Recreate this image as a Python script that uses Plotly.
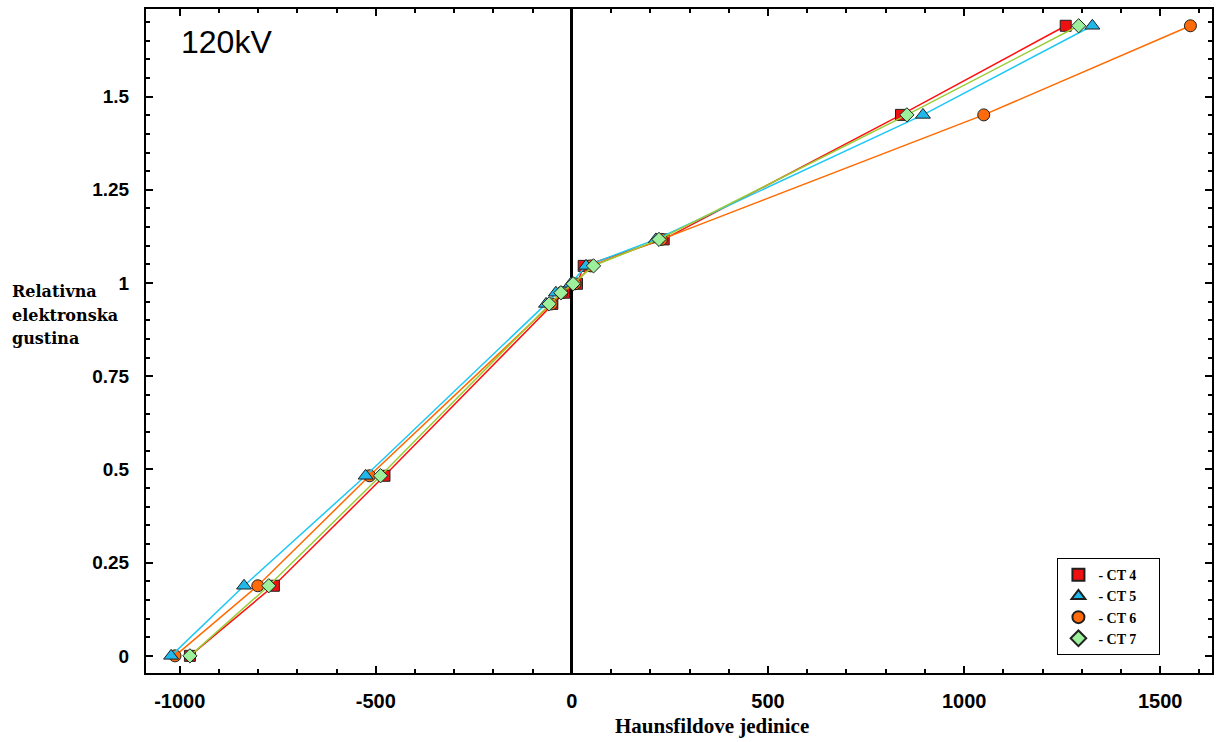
import plotly.graph_objects as go

# Relative electron density vs. Hounsfield units, 120 kV, four CT scanners
density = [0.0, 0.188, 0.483, 0.944, 0.974, 0.998, 1.046, 1.117, 1.451, 1.69]

hu_ct4 = [-974, -760, -478, -50, -20, 13, 30, 234, 839, 1259]
hu_ct5 = [-1022, -836, -526, -66, -41, -3, 36, 214, 895, 1327]
hu_ct6 = [-1012, -801, -516, -52, -26, 8, 48, 228, 1050, 1577]
hu_ct7 = [-974, -773, -488, -58, -28, 3, 55, 222, 854, 1292]

series = [
    # name, x, line colour, marker symbol, marker fill, marker size
    ("CT 4", hu_ct4, "#ff1010", "square", "#ee1111", 11),
    ("CT 6", hu_ct6, "#ff6a00", "circle", "#ff6a0a", 12),
    ("CT 5", hu_ct5, "#1ec8f5", "triangle-up", "#20b8ea", 13),
    ("CT 7", hu_ct7, "#99cc33", "diamond", "#9cf09c", 11),
]
legend_order = ["CT 4", "CT 5", "CT 6", "CT 7"]

fig = go.Figure()
for name, xs, lc, sym, fc, sz in series:
    fig.add_trace(go.Scatter(
        x=xs, y=density, mode="lines+markers", name=name, showlegend=False,
        line=dict(color=lc, width=1.5),
        marker=dict(symbol=sym, color=fc, size=sz, line=dict(color="#202020", width=1)),
    ))

lookup = {s[0]: s for s in series}
pad = "\u00a0" * 5
for name in legend_order:
    _, _, lc, sym, fc, sz = lookup[name]
    fig.add_trace(go.Scatter(
        x=[None], y=[None], mode="markers", name="- " + name + pad,
        marker=dict(symbol=sym, color=fc, size=sz + 1, line=dict(color="#202020", width=1)),
    ))

axis_common = dict(
    showline=True, linecolor="black", linewidth=2, mirror="ticks",
    ticks="inside", tickcolor="black", tickwidth=2, ticklen=7,
    showgrid=False,
)

# y-axis title lines, placed individually for wider line spacing
ytitle_lines = ["Relativna", "elektronska", "gustina"]
ytitle_pos = [0.5738, 0.539, 0.5045]
ytitle_ann = [
    dict(text=t, xref="paper", yref="paper", x=-0.128, y=yp,
         xanchor="left", yanchor="middle", align="left", showarrow=False,
         font=dict(family="DejaVu Serif, Liberation Serif", size=16, color="black", weight="bold"))
    for t, yp in zip(ytitle_lines, ytitle_pos)
]

fig.update_layout(
    width=1218, height=742,
    margin=dict(l=146, r=4, t=9, b=69),
    plot_bgcolor="white", paper_bgcolor="white",
    xaxis=dict(
        **axis_common,
        range=[-1086, 1632],
        tickmode="array", tickvals=[-1000, -500, 0, 500, 1000, 1500],
        ticktext=["-1000", "-500", "0", "500", "1000", "1500"],
        minor=dict(dtick=100, ticks="inside", ticklen=4, tickcolor="black", tickwidth=2),
        zeroline=True, zerolinecolor="black", zerolinewidth=2.5,
        tickfont=dict(family="Liberation Sans Narrow, Arial Narrow, Liberation Sans", size=20, color="black", weight="bold"),
        ticklabelstandoff=9,
    ),
    yaxis=dict(
        **axis_common,
        range=[-0.046, 1.735],
        tickmode="array", tickvals=[0, 0.25, 0.5, 0.75, 1, 1.25, 1.5],
        ticktext=["0", "0.25", "0.5", "0.75", "1", "1.25", "1.5"],
        minor=dict(dtick=0.05, ticks="inside", ticklen=4, tickcolor="black", tickwidth=2),
        zeroline=False,
        tickfont=dict(family="Liberation Sans, Arial", size=19, color="black", weight="bold"),
        ticklabelstandoff=11,
    ),
    legend=dict(
        x=0.855, y=0.173, xanchor="left", yanchor="top",
        bordercolor="black", borderwidth=1, bgcolor="white",
        font=dict(family="Liberation Serif, Times New Roman", size=14, color="black", weight="bold"),
        itemsizing="constant", tracegroupgap=0,
    ),
    annotations=[
        dict(text="120kV", xref="paper", yref="paper", x=0.031, y=0.95,
             xanchor="left", yanchor="middle", showarrow=False,
             font=dict(family="Liberation Sans, Arial", size=32, color="black")),
        dict(text="Haunsfildove jedinice", xref="paper", yref="paper", x=0.531, y=-0.08,
             xanchor="center", yanchor="middle", showarrow=False,
             font=dict(family="Liberation Serif, Times New Roman", size=21, color="black", weight="bold")),
    ] + ytitle_ann,
)

fig.write_html("out.html")
